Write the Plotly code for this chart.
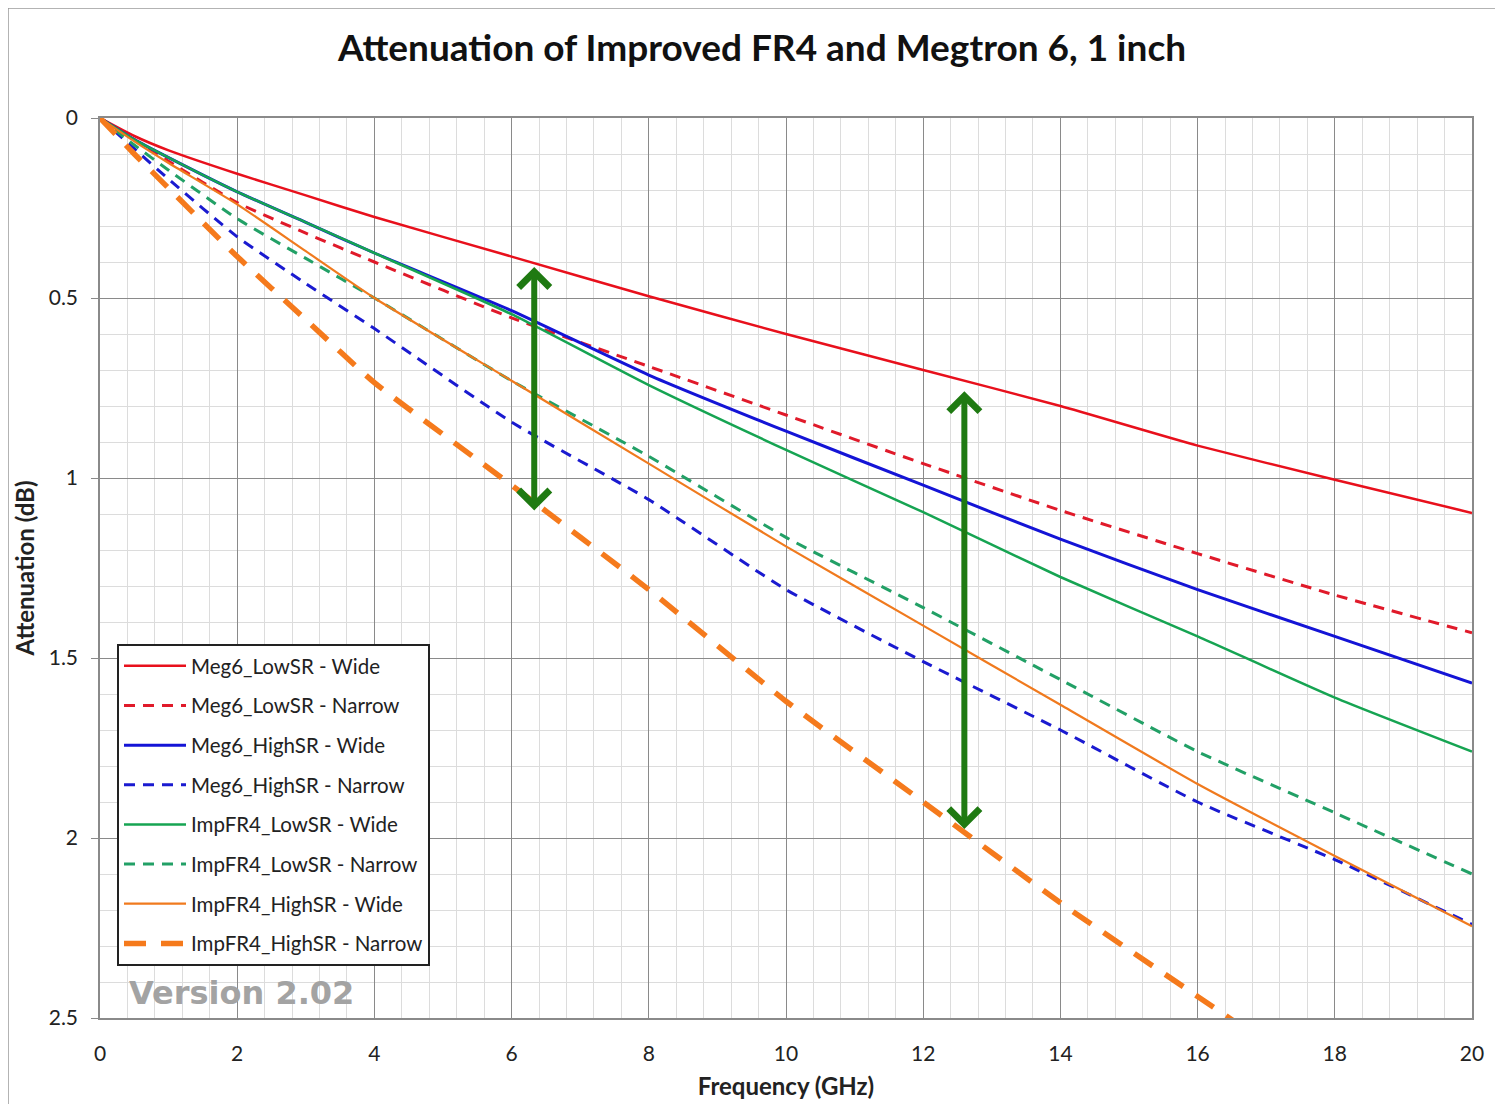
import plotly.graph_objects as go

# ---------------- data ----------------
freq_ghz = [0, 0.5, 1, 2, 3, 4, 6, 8, 10, 12, 14, 16, 18, 20]

meg6_lowsr_wide = [0, 0.05, 0.09, 0.155, 0.215, 0.275, 0.385, 0.495, 0.60, 0.70, 0.80, 0.91, 1.005, 1.097]
meg6_lowsr_narrow = [0, 0.06, 0.12, 0.235, 0.32, 0.40, 0.555, 0.69, 0.825, 0.96, 1.09, 1.21, 1.325, 1.43]
meg6_highsr_wide = [0, 0.06, 0.11, 0.205, 0.29, 0.375, 0.535, 0.714, 0.87, 1.02, 1.17, 1.31, 1.44, 1.57]
meg6_highsr_narrow = [0, 0.085, 0.17, 0.33, 0.46, 0.585, 0.845, 1.06, 1.31, 1.51, 1.70, 1.90, 2.06, 2.24]
impfr4_lowsr_wide = [0, 0.06, 0.11, 0.205, 0.29, 0.375, 0.545, 0.742, 0.922, 1.095, 1.275, 1.44, 1.61, 1.76]
impfr4_lowsr_narrow = [0, 0.075, 0.145, 0.28, 0.39, 0.50, 0.73, 0.94, 1.165, 1.36, 1.56, 1.76, 1.93, 2.10]
impfr4_highsr_wide = [0, 0.065, 0.125, 0.24, 0.37, 0.50, 0.73, 0.96, 1.19, 1.41, 1.63, 1.85, 2.05, 2.245]
impfr4_highsr_narrow = [0, 0.10, 0.195, 0.385, 0.56, 0.735, 1.02, 1.31, 1.62, 1.90, 2.18, 2.44, 2.70, 2.96]

series_names = [
    "Meg6_LowSR - Wide", "Meg6_LowSR - Narrow",
    "Meg6_HighSR - Wide", "Meg6_HighSR - Narrow",
    "ImpFR4_LowSR - Wide", "ImpFR4_LowSR - Narrow",
    "ImpFR4_HighSR - Wide", "ImpFR4_HighSR - Narrow",
]
series_values = [
    meg6_lowsr_wide, meg6_lowsr_narrow,
    meg6_highsr_wide, meg6_highsr_narrow,
    impfr4_lowsr_wide, impfr4_lowsr_narrow,
    impfr4_highsr_wide, impfr4_highsr_narrow,
]

x_ticks = [0, 2, 4, 6, 8, 10, 12, 14, 16, 18, 20]
y_ticks = [0, 0.5, 1, 1.5, 2, 2.5]
y_tick_labels = ["0", "0.5", "1", "1.5", "2", "2.5"]

# ---------------- styles ----------------
styles = [
    dict(color="#e8101c", width=2.5, dash="solid"),
    dict(color="#e01a2a", width=3, dash="11px,8px"),
    dict(color="#1414d6", width=3, dash="solid"),
    dict(color="#1a1ad0", width=3, dash="11px,8px"),
    dict(color="#16a452", width=2.5, dash="solid"),
    dict(color="#22a066", width=3, dash="11px,8px"),
    dict(color="#f07a1e", width=2.2, dash="solid"),
    dict(color="#f57a1c", width=5.5, dash="22px,15px"),
]

FONT = "Lato"

fig = go.Figure()
for i, (name, vals, st) in enumerate(zip(series_names, series_values, styles)):
    fig.add_trace(go.Scatter(
        x=freq_ghz, y=vals, name=name, mode="lines",
        line=dict(color=st["color"], width=st["width"], dash=st["dash"],
                  shape="spline", smoothing=0.5),
        legendgroup=f"g{i}",
    ))

# green double-headed arrows
arrow_color = "#1f7a12"
for (xa, y_top, y_bot) in [(6.33, 0.41, 1.09), (12.6, 0.755, 1.975)]:
    fig.add_annotation(
        x=xa, y=y_bot, ax=xa, ay=y_top, xref="x", yref="y", axref="x", ayref="y",
        text="", showarrow=True, arrowhead=4, startarrowhead=4, arrowside="end+start",
        arrowsize=1.0, startarrowsize=1.0, arrowwidth=6, arrowcolor=arrow_color,
    )

# watermark
fig.add_annotation(
    x=2.06, y=2.43, xref="x", yref="y", text="<b>Version 2.02</b>", showarrow=False,
    font=dict(family="DejaVu Sans", size=32, color="#a3a3a3"),
)

axis_grid = "#8a8a8a"
minor_grid = "#dcdcdc"

fig.update_xaxes(
    range=[0, 20], tickvals=x_ticks, showgrid=True, gridcolor=axis_grid, gridwidth=1.3,
    minor=dict(dtick=0.4, showgrid=True, gridcolor=minor_grid, gridwidth=1),
    showline=True, linecolor=axis_grid, linewidth=1.5, mirror=True,
    ticks="", ticklabelstandoff=16, zeroline=False,
    tickfont=dict(family=FONT, size=21, color="#222222"),
    title=dict(text="<b>Frequency (GHz)</b>", font=dict(family=FONT, size=24, color="#222222"), standoff=14),
)
fig.update_yaxes(
    range=[2.5, 0], tickvals=y_ticks, ticktext=y_tick_labels,
    showgrid=True, gridcolor=axis_grid, gridwidth=1.3,
    minor=dict(dtick=0.1, showgrid=True, gridcolor=minor_grid, gridwidth=1),
    showline=True, linecolor=axis_grid, linewidth=1.5, mirror=True,
    ticks="outside", ticklen=7, tickcolor=axis_grid, ticklabelstandoff=9, zeroline=False,
    tickfont=dict(family=FONT, size=21, color="#222222"),
    title=dict(text="<b>Attenuation (dB)</b>", font=dict(family=FONT, size=24, color="#222222"), standoff=7),
)

fig.update_layout(
    width=1503, height=1104,
    margin=dict(l=92, r=39, t=110, b=94),
    paper_bgcolor="white", plot_bgcolor="white",
    title=dict(text="<b>Attenuation of Improved FR4 and Megtron 6, 1 inch</b>",
               x=(762 - 8) / 1503, xanchor="center", y=1 - 40 / 1104, yanchor="middle",
               font=dict(family=FONT, size=37, color="#111111")),
    legend=dict(
        x=(117 - 100) / 1372, y=(1018 - 644) / 900, xanchor="left", yanchor="top",
        bgcolor="white", bordercolor="#222222", borderwidth=2,
        font=dict(family=FONT, size=20.5, color="#222222"),
        tracegroupgap=10, traceorder="grouped", itemwidth=62,
    ),
    showlegend=True,
)

# outer chart border
fig.add_shape(type="rect", xref="paper", yref="paper",
              x0=-92 / 1372, x1=1 + 60 / 1372, y0=-95 / 900, y1=1 + 110 / 900,
              line=dict(color="#9a9a9a", width=1.5), fillcolor="rgba(0,0,0,0)", layer="below")

fig.write_html("out.html")
